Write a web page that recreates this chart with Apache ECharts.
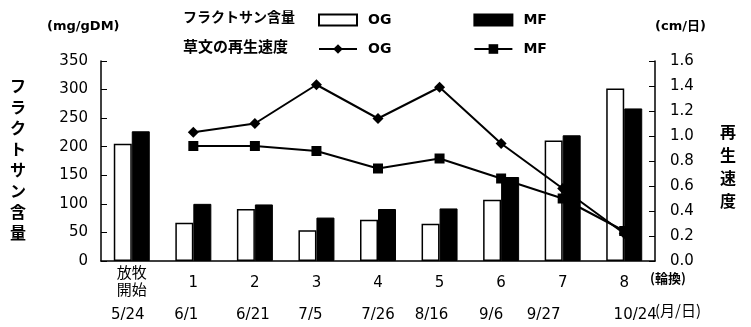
<!DOCTYPE html>
<html><head><meta charset="utf-8">
<script src="https://cdn.jsdelivr.net/npm/echarts@6/dist/echarts.min.js"></script>
<style>html,body{margin:0;padding:0;background:#fff}#c{width:751px;height:327px}</style>
</head><body><div id="c"></div>
<script>
// ---- data ----
const categories = ['放牧\n開始', '1', '2', '3', '4', '5', '6', '7', '8'];
const dates = ['5/24', '6/1', '6/21', '7/5', '7/26', '8/16', '9/6', '9/27', '10/24'];
const fructanOG = [205, 67, 91, 54, 72, 65, 107, 211, 302];
const fructanMF = [227, 100, 99, 76, 91, 92, 147, 220, 267];
const growthOG = [null, 1.03, 1.10, 1.41, 1.14, 1.39, 0.94, 0.58, 0.22];
const growthMF = [null, 0.92, 0.92, 0.88, 0.74, 0.82, 0.66, 0.50, 0.24];
const leftAxis = { min: 0, max: 350, interval: 50 };
const rightAxis = { min: 0, max: 1.6, interval: 0.2 };

// ---- layout tweaks (label nudges, px) ----
const dateShift = [-4, -7, -2, -6, 0, -8, -10, -19, 11];

const NUM = 'DejaVu Sans, Noto Sans CJK JP, sans-serif';
const JP = 'Noto Sans CJK JP, sans-serif';

const dateItems = dates.map((d, i) => {
  const s = dateShift[i];
  return { value: d, textStyle: { padding: s < 0 ? [0, -2 * s, 0, 0] : [0, 0, 0, 2 * s] } };
});

const chart = echarts.init(document.getElementById('c'), null, { renderer: 'canvas' });
chart.setOption({
  animation: false,
  backgroundColor: '#fff',
  grid: { left: 101, right: 96, top: 61, bottom: 66 },
  legend: [
    {
      data: ['OG含量', 'MF含量'], left: 313, top: 8, icon: 'rect',
      itemWidth: 38, itemHeight: 11, itemGap: 82,
      formatter: n => n.slice(0, 2),
      textStyle: { fontFamily: NUM, fontSize: 14, fontWeight: 'bold', color: '#000', padding: [0, 0, 0, 6] },
      selectedMode: false
    },
    {
      data: ['OG速度', 'MF速度'], left: 313, top: 37,
      itemWidth: 38, itemHeight: 12, itemGap: 82,
      formatter: n => n.slice(0, 2),
      textStyle: { fontFamily: NUM, fontSize: 14, fontWeight: 'bold', color: '#000', padding: [0, 0, 0, 6] },
      selectedMode: false
    }
  ],
  xAxis: [
    {
      type: 'category', data: categories, boundaryGap: true,
      axisLine: { lineStyle: { color: '#000', width: 1.5 } },
      axisTick: { inside: true, length: 4, lineStyle: { color: '#000' } },
      axisLabel: { color: '#000', fontFamily: NUM, fontSize: 15, margin: 22, verticalAlign: 'middle', lineHeight: 17, interval: 0 }
    },
    {
      type: 'category', data: dateItems, position: 'bottom', boundaryGap: true,
      axisLine: { show: false }, axisTick: { show: false },
      axisLabel: { color: '#000', fontFamily: NUM, fontSize: 15, margin: 47, verticalAlign: 'middle', interval: 0 }
    }
  ],
  yAxis: [
    {
      type: 'value', min: leftAxis.min, max: leftAxis.max, interval: leftAxis.interval,
      splitLine: { show: false },
      axisLine: { show: true, lineStyle: { color: '#000', width: 1.5 } },
      axisTick: { show: true, inside: true, length: 6, lineStyle: { color: '#000' } },
      axisLabel: { color: '#000', fontFamily: NUM, fontSize: 15, margin: 13 }
    },
    {
      type: 'value', min: rightAxis.min, max: rightAxis.max, interval: rightAxis.interval,
      splitLine: { show: false },
      axisLine: { show: true, lineStyle: { color: '#000', width: 1.5 } },
      axisTick: { show: true, inside: true, length: 6, lineStyle: { color: '#000' } },
      axisLabel: { color: '#000', fontFamily: NUM, fontSize: 15, margin: 15, formatter: v => v.toFixed(1) }
    }
  ],
  series: [
    {
      name: 'OG含量', type: 'bar', data: fructanOG, barWidth: 18, barGap: '0%',
      itemStyle: { color: '#fff', borderColor: '#000', borderWidth: 1.5 }
    },
    {
      name: 'MF含量', type: 'bar', data: fructanMF, barWidth: 18, barGap: '0%',
      itemStyle: { color: '#000', borderColor: '#000', borderWidth: 1 }
    },
    {
      name: 'OG速度', type: 'line', yAxisIndex: 1, data: growthOG, z: 5,
      symbol: 'diamond', symbolSize: 11,
      lineStyle: { color: '#000', width: 2 }, itemStyle: { color: '#000' }
    },
    {
      name: 'MF速度', type: 'line', yAxisIndex: 1, data: growthMF, z: 5,
      symbol: 'rect', symbolSize: 10,
      lineStyle: { color: '#000', width: 2 }, itemStyle: { color: '#000' }
    }
  ],
  graphic: [
    { type: 'text', left: 47, top: 20, style: { text: '(mg/gDM)', font: 'bold 13px ' + NUM, fill: '#000' } },
    { type: 'text', left: 655, top: 20, style: { text: '(cm/日)', font: 'bold 13px ' + NUM, fill: '#000' } },
    { type: 'text', left: 183, top: 10, style: { text: 'フラクトサン含量', font: 'bold 14px ' + JP, fill: '#000' } },
    { type: 'text', left: 183, top: 39, style: { text: '草文の再生速度', font: 'bold 15px ' + JP, fill: '#000' } },
    { type: 'text', left: 10, top: 75, style: { text: 'フ\nラ\nク\nト\nサ\nン\n含\n量', font: 'bold 16px ' + JP, lineHeight: 21, fill: '#000' } },
    { type: 'text', left: 720, top: 120, style: { text: '再\n生\n速\n度', font: 'bold 16px ' + JP, lineHeight: 23, fill: '#000' } },
    { type: 'text', left: 650, top: 272, style: { text: '(輪換)', font: 'bold 13px ' + JP, fill: '#000' } },
    { type: 'text', left: 655, top: 303, style: { text: '(月/日)', font: '15px ' + JP, fill: '#000' } }
  ]
});
</script>
</body></html>
